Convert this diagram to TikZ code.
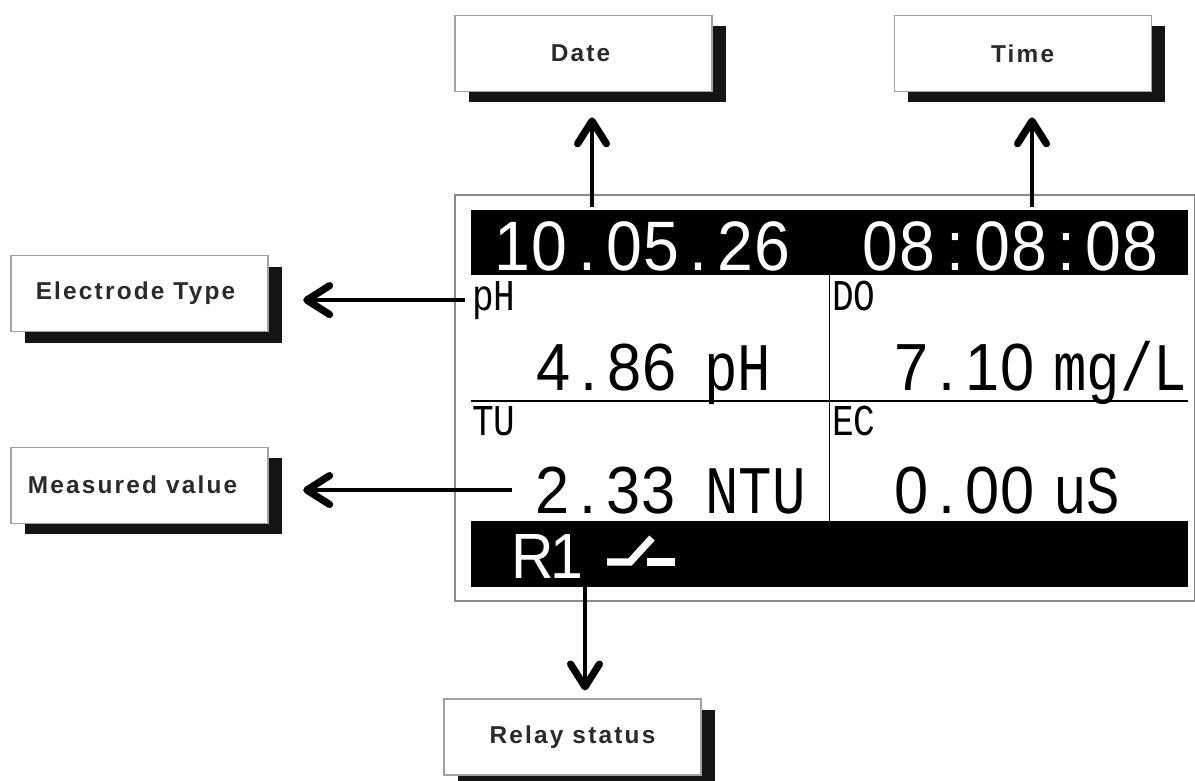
\documentclass[tikz,border=0pt]{standalone}
\usepackage{fontspec}
\setmainfont{Liberation Sans}
\newfontfamily\lcdfont[FakeStretch=.82]{Liberation Mono}
\newfontfamily\digitfont[FakeStretch=.92]{Liberation Sans}
\newfontfamily\tagfont[LetterSpace=9,BoldFont={Liberation Sans Bold}]{Liberation Sans}
\usepackage{tikz}
\usetikzlibrary{arrows.meta,positioning,shadows}
\definecolor{labelink}{HTML}{2A2A2A}
\definecolor{framegray}{HTML}{8A8A8A}
\newcommand\dg[1]{\makebox[.53em]{#1}}
\tikzset{
  tagbox/.style  ={draw=framegray!80,line width=0.8pt,fill=white,minimum width=192.75pt,
                   minimum height=57pt,inner sep=0pt,align=center,text=labelink,
                   font=\tagfont\bfseries\fontsize{18.3}{20}\selectfont,
                   drop shadow={shadow xshift=10.5pt,shadow yshift=-8.25pt,fill=black!92,opacity=1}},
  lcdbar/.style  ={fill=black,minimum width=537.75pt,inner sep=0pt},
  clock/.style   ={anchor=base west,inner sep=0pt,text=white,
                   font=\digitfont\fontsize{52.5}{57}\selectfont},
  reading/.style ={anchor=base west,inner sep=0pt,text=black,
                   font=\digitfont\fontsize{50}{55}\selectfont},
  unit/.style    ={anchor=base west,inner sep=0pt,text=black,
                   font=\lcdfont\fontsize{51}{51}\selectfont},
  channel/.style ={anchor=base west,inner sep=0pt,text=black,
                   font=\lcdfont\fontsize{33}{33}\selectfont},
  lcdrule/.style ={line width=1.3pt,draw=black},
  callout/.style ={-{Straight Barb[length=6mm,width=7.6mm,line width=5.4pt,round]},line width=3.6pt,draw=black}
}
\begin{document}
\begin{tikzpicture}[x=0.75pt,y=-0.75pt]
    \useasboundingbox (0,0) rectangle (1195,781);
    % display
    \draw[framegray,line width=1pt] (455,195) rectangle (1195,601);
    \node[lcdbar,minimum height=48.75pt] (topbar) at (829.5,242.5) {};
    \node[lcdbar,minimum height=49.5pt] (relaybar) at (829.5,554) {};
    \coordinate (rowline) at (0,401);
    \draw[lcdrule,xshift=-1.5] (topbar.south) -- (relaybar.north);
    \draw[lcdrule] (topbar.west |- rowline) -- (topbar.east |- rowline);
    \node[clock] (dateval) at (494,270) {\dg1\dg0\dg.\dg0\dg5\dg.\dg2\dg6};
    \node[clock] (timeval) at (862,270) {\dg0\dg8\dg:\dg0\dg8\dg:\dg0\dg8};
    \node[channel] (phtag) at (472,310) {pH};
    \node[channel] (dotag) at (832,310) {DO};
    \node[channel] (tutag) at (472,435) {TU};
    \node[channel] (ectag) at (832,435) {EC};
    \node[reading] (phval) at (536,390) {\dg4\dg.\dg8\dg6};
    \node[reading] (doval) at (894,390) {\dg7\dg.\dg1\dg0};
    \node[reading] (tuval) at (535,513) {\dg2\dg.\dg3\dg3};
    \node[reading] (ecval) at (894,513) {\dg0\dg.\dg0\dg0};
    \node[unit] (phunit) at (704,390) {pH};
    \node[unit] (dounit) at (1053,390) {mg/L};
    \node[unit] (tuunit) at (705,513) {NTU};
    \node[unit] (ecunit) at (1053,513) {uS};
    \node[clock,font=\digitfont\fontsize{48}{52}\selectfont] (relayval) at (516,578) {\dg R\dg1};
    \draw[white,line width=5.5pt] (607,562) -- (630,562) -- (652,538);
    \draw[white,line width=5.5pt] (647,562) -- (675,562);
    % labels
    \node[tagbox] (datebox) at (583.5,53.5) {Date\hspace{4.5pt}};
    \node[tagbox,right=135.75pt of datebox] (timebox) {Time};
    \node[tagbox] (typebox) at (139.5,293.5) {Electrode Type\hspace{6pt}};
    \node[tagbox,below=86pt of typebox] (measbox) {Measured value\hspace{10.5pt}};
    \node[tagbox] (relaybox) at (572.5,737) {Relay status};
    % connectors
    \coordinate (datefoot) at (592,207);
    \coordinate (timefoot) at (1032,207);
    \coordinate (relayfoot) at (585,587);
    \draw[callout,shorten >=19pt] (datefoot) -- (datefoot |- datebox.south);
    \draw[callout,shorten >=19pt] (timefoot) -- (timefoot |- timebox.south);
    \draw[callout,shorten >=26pt,shorten <=5pt] (phtag.west) -- (phtag.west -| typebox.east);
    \draw[callout,shorten >=26pt,shorten <=17pt] (tuval.west) -- (tuval.west -| measbox.east);
    \draw[callout,shorten >=6pt] (relayfoot) -- (relayfoot |- relaybox.north);
  \end{tikzpicture}
\end{document}
